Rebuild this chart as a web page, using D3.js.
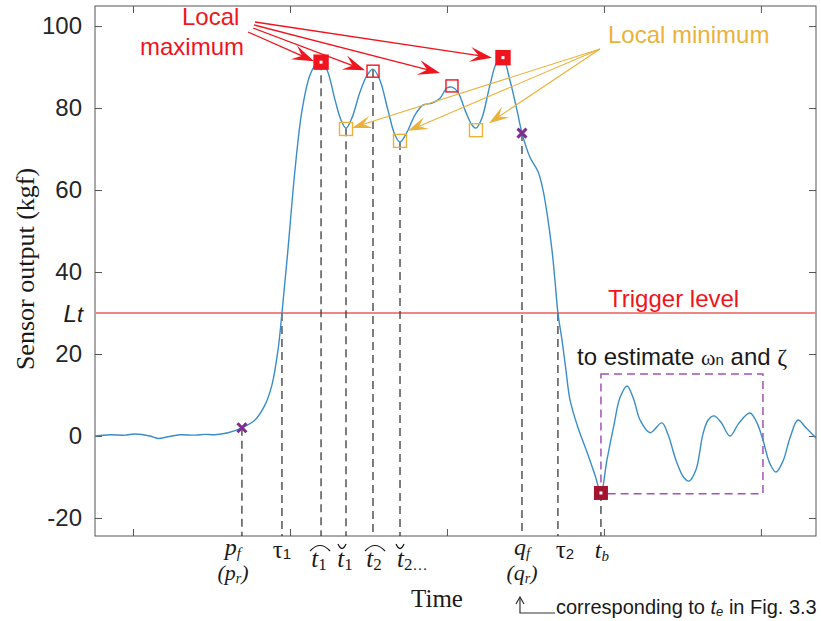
<!DOCTYPE html>
<html lang="en">
<head>
<meta charset="UTF-8">
<title>Sensor output</title>
<script src="https://cdn.jsdelivr.net/npm/d3@7"></script>
<style>
  body { margin: 0; background: #fff; }
  svg { display: block; font-family: "Liberation Sans", Arial, sans-serif; }
  .tick text { font-size: 24px; fill: #262626; }
  .tick line { stroke: #555; }
</style>
</head>
<body>
<div id="chart"></div>
<script>
// sensor trace (time in ms, force in kgf)
var timeMs = [75.8, 85.3, 94.9, 101.3, 110.8, 115.9, 122.3, 129.9, 139.5, 145.9, 152.2, 160.5,
  169.4, 177.7, 184.1, 188.5, 192.4, 194.9, 198.7, 203.2, 207.7, 212.7, 216.6, 219.8,
  223.6, 228.7, 232.5, 235.7, 239.5, 244.6, 249.1, 252.9, 257.3, 262.4, 266.9, 270.1,
  274.5, 279.6, 284.7, 290.5, 295.6, 300.0, 303.2, 307.0, 311.5, 315.9, 318.5, 322.3,
  327.4, 331.9, 335.7, 340.1, 344.6, 347.8, 352.9, 358.0, 361.2, 363.7, 366.9, 368.8,
  370.7, 373.3, 375.8, 378.4, 383.5, 389.2, 394.3, 398.1, 401.9, 406.4, 410.2, 414.7,
  419.1, 423.0, 429.4, 436.9, 440.8, 445.9, 451.0, 454.2, 458.6, 463.1, 466.4, 470.1,
  474.5, 480.3, 486.1, 493.0, 497.5, 501.3, 505.8, 509.6, 514.1, 518.5, 523.6, 528.7, 535.1];
var force = [0.0, 0.3, 0.2, 0.5, 0.0, -0.6, -0.2, 0.3, 0.2, 0.4, 0.3, 0.8,
  2.0, 3.9, 7.6, 12.4, 21.0, 30.0, 45.4, 64.9, 79.5, 88.0, 90.7, 91.2,
  89.3, 82.0, 77.1, 75.1, 77.6, 83.9, 88.0, 89.5, 86.8, 79.5, 73.4, 71.7,
  74.1, 78.3, 80.7, 81.2, 82.4, 84.9, 85.1, 83.9, 79.5, 75.9, 75.1, 77.6,
  85.6, 91.2, 92.0, 86.8, 79.5, 73.9, 68.0, 64.5, 60.0, 54.5, 45.4, 38.0,
  30.0, 23.4, 16.1, 8.8, 2.0, -3.9, -9.5, -13.9, -5.9, 2.7, 9.3, 12.2,
  8.8, 3.9, 0.8, 3.2, 0.4, -5.9, -10.2, -11.0, -8.3, 0.5, 3.9, 4.9,
  3.4, 0.0, 3.2, 5.6, 3.2, -1.0, -6.8, -8.8, -6.1, -0.5, 3.9, 2.0, -0.5];

// pf, tau1, t^1, tv1, t^2, tv2, qf, tau2, tb
var eventTimes = [169.4, 194.9, 219.8, 235.7, 252.9, 270.1, 347.8, 370.7, 398.1];
var eventValues = [2.0, 30.0, 91.2, 75.1, 89.5, 71.7, 73.9, 30.0, -13.9];

var maxTimes = [219.8, 252.9, 303.2, 335.7];
var maxValues = [91.2, 89.0, 85.4, 92.3];
var maxFilled = [true, false, false, true];
var minTimes = [235.7, 270.1, 318.5];
var minValues = [74.9, 72.0, 74.6];
var crossTimes = [169.4, 347.8];
var crossValues = [2.0, 73.9];
var bottomTime = 398.1, bottomValue = -13.9;
var boxTimes = [398.1, 501.3];
var boxValues = [-14.1, 15.1];
var triggerLevel = 30;

var xTicks = [100, 200, 300, 400, 500];
var yTicks = [-20, 0, 20, 40, 60, 80, 100];

(function () {
    var width = 821, height = 621;
    var left = 95, right = 816, top = 6, bottom = 536;
    var serif = '"Liberation Serif", "Times New Roman", serif';
    var sans = '"Liberation Sans", Arial, sans-serif';
    var red = "#f0141e", yellow = "#ebb23a";

    var svg = d3.select("#chart").append("svg")
        .attr("width", width).attr("height", height);

    var x = d3.scaleLinear().domain([75.8, 535.1]).range([left, right]);
    var y = d3.scaleLinear().domain([-24.4, 104.9]).range([bottom, top]);

    // axes, MATLAB style ticks pointing in
    svg.append("g").attr("transform", "translate(0," + bottom + ")")
        .call(d3.axisBottom(x).tickValues(xTicks).tickSizeInner(-7).tickSizeOuter(0).tickFormat(""));
    svg.append("g").attr("transform", "translate(0," + top + ")")
        .call(d3.axisTop(x).tickValues(xTicks).tickSizeInner(-7).tickSizeOuter(0).tickFormat(""));
    svg.append("g").attr("transform", "translate(" + left + ",0)")
        .call(d3.axisLeft(y).tickValues(yTicks).tickSizeInner(-7).tickSizeOuter(0).tickPadding(13)
            .tickFormat(function (d) { return String(d); }));
    svg.append("g").attr("transform", "translate(" + right + ",0)")
        .call(d3.axisRight(y).tickValues(yTicks).tickSizeInner(-7).tickSizeOuter(0).tickFormat(""));
    svg.selectAll(".domain").remove();
    svg.append("rect").attr("x", left).attr("y", top)
        .attr("width", right - left).attr("height", bottom - top)
        .attr("fill", "none").attr("stroke", "#555");

    // trigger level
    svg.append("line").attr("x1", left).attr("x2", right)
        .attr("y1", y(triggerLevel)).attr("y2", y(triggerLevel))
        .attr("stroke", "#ef8585").attr("stroke-width", 2);

    // dashed drop lines
    svg.selectAll(".drop").data(eventTimes).enter().append("line")
        .attr("x1", function (d) { return x(d); })
        .attr("x2", function (d) { return x(d); })
        .attr("y1", function (d, i) { return y(eventValues[i]); })
        .attr("y2", bottom)
        .attr("stroke", "#3a3a3a").attr("stroke-width", 1.3)
        .attr("stroke-dasharray", "8,5");

    // box of the free oscillation
    svg.append("rect")
        .attr("x", x(boxTimes[0])).attr("y", y(boxValues[1]))
        .attr("width", x(boxTimes[1]) - x(boxTimes[0]))
        .attr("height", y(boxValues[0]) - y(boxValues[1]))
        .attr("fill", "none").attr("stroke", "#a552b5")
        .attr("stroke-width", 1.5).attr("stroke-dasharray", "8,5");

    var line = d3.line()
        .x(function (i) { return x(timeMs[i]); })
        .y(function (i) { return y(force[i]); })
        .curve(d3.curveCatmullRom.alpha(0.5));
    svg.append("path").datum(d3.range(timeMs.length))
        .attr("d", line).attr("fill", "none")
        .attr("stroke", "#3a8dc8").attr("stroke-width", 1.4);

    // markers
    svg.selectAll(".maxsq").data(maxTimes).enter().append("rect")
        .attr("x", function (d, i) { return x(d) - (maxFilled[i] ? 7 : 6); })
        .attr("y", function (d, i) { return y(maxValues[i]) - (maxFilled[i] ? 7 : 6); })
        .attr("width", function (d, i) { return maxFilled[i] ? 14 : 12; })
        .attr("height", function (d, i) { return maxFilled[i] ? 14 : 12; })
        .attr("fill", function (d, i) { return maxFilled[i] ? red : "none"; })
        .attr("stroke", red).attr("stroke-width", 1.4);
    svg.selectAll(".maxdot").data(maxTimes.filter(function (d, i) { return maxFilled[i]; }))
        .enter().append("rect")
        .attr("x", function (d) { return x(d) - 1.5; })
        .attr("y", function (d) { return y(maxValues[maxTimes.indexOf(d)]) - 1.5; })
        .attr("width", 3).attr("height", 3).attr("fill", "#fff");

    svg.selectAll(".minsq").data(minTimes).enter().append("rect")
        .attr("x", function (d) { return x(d) - 6.5; })
        .attr("y", function (d, i) { return y(minValues[i]) - 6.5; })
        .attr("width", 13).attr("height", 13)
        .attr("fill", "none").attr("stroke", yellow).attr("stroke-width", 1.4);

    svg.selectAll(".cross").data(crossTimes).enter().append("path")
        .attr("transform", function (d, i) { return "translate(" + x(d) + "," + y(crossValues[i]) + ")"; })
        .attr("d", "M-4.5,-4.5L4.5,4.5M-4.5,4.5L4.5,-4.5")
        .attr("stroke", "#7e2f8e").attr("stroke-width", 3);

    svg.append("rect")
        .attr("x", x(bottomTime) - 7).attr("y", y(bottomValue) - 7)
        .attr("width", 14).attr("height", 14).attr("fill", "#a2142f");
    svg.append("rect")
        .attr("x", x(bottomTime) - 1.5).attr("y", y(bottomValue) - 1.5)
        .attr("width", 3).attr("height", 3).attr("fill", "#fff");

    // annotation arrows
    var arrow = function (x0, y0, x1, y1, color, len, half, w) {
        var ang = Math.atan2(y1 - y0, x1 - x0);
        svg.append("line").attr("x1", x0).attr("y1", y0)
            .attr("x2", x1 - Math.cos(ang) * len * 0.6)
            .attr("y2", y1 - Math.sin(ang) * len * 0.6)
            .attr("stroke", color).attr("stroke-width", w);
        svg.append("path")
            .attr("d", "M0,0L" + (-len) + "," + (-half) + "L" + (-len * 0.6) + ",0L" + (-len) + "," + half + "Z")
            .attr("transform", "translate(" + x1 + "," + y1 + ") rotate(" + (ang * 180 / Math.PI) + ")")
            .attr("fill", color);
    };
    var maxFrom = [[248, 32], [253, 28], [254, 25], [255, 22]];
    var maxTip = [[-7, -1], [-8, -1], [-12, -13], [-11, 0]];
    maxTimes.forEach(function (d, i) {
        arrow(maxFrom[i][0], maxFrom[i][1], x(d) + maxTip[i][0], y(maxValues[i]) + maxTip[i][1], red, 22, 7.5, 1.3);
    });
    var minTip = [[6, -1], [8, -10], [13, -7]];
    minTimes.forEach(function (d, i) {
        arrow(600, 49, x(d) + minTip[i][0], y(minValues[i]) + minTip[i][1], yellow, 20, 6.5, 1.1);
    });

    // text helper with tspans for sub/superscripts
    var rich = function (px, py, parts, anchor, family) {
        var t = svg.append("text").attr("x", px).attr("y", py)
            .attr("text-anchor", anchor || "start")
            .attr("font-family", family || serif).attr("fill", "#1a1a1a");
        var shift = 0;
        parts.forEach(function (p) {
            var ts = t.append("tspan").text(p[0]).attr("font-size", p[1]);
            if (p[2]) ts.attr("font-style", "italic");
            var s = p[3] || 0;
            if (s - shift) ts.attr("dy", s - shift);
            shift = s;
            if (p[4]) ts.attr("font-family", p[4]);
        });
        return t;
    };

    svg.append("text").attr("x", 182).attr("y", 25).attr("fill", red)
        .attr("font-size", 24).text("Local");
    svg.append("text").attr("x", 140).attr("y", 55).attr("fill", red)
        .attr("font-size", 24).text("maximum");
    svg.append("text").attr("x", 608).attr("y", 43).attr("fill", yellow)
        .attr("font-size", 24).text("Local minimum");
    svg.append("text").attr("x", 608).attr("y", 307).attr("fill", red)
        .attr("font-size", 24).text("Trigger level");

    rich(83, y(triggerLevel) + 9, [["L", 24, true], ["t", 22, true]], "end", sans);
    rich(577, 365, [["to estimate ", 24, false], ["ω", 22, false, 0, serif], ["n", 15, false, 0],
        [" and ", 24, false], ["ζ", 24, false, 0, serif]], "start", sans);

    // event labels under the axis
    var ex = eventTimes.map(function (d) { return x(d); });
    rich(ex[0] - 9, 555, [["p", 24, true], ["f", 15, true, 3]], "middle");
    rich(ex[0] - 9, 580, [["(", 22, true], ["p", 22, true], ["r", 14, true, 3], [")", 22, true, 0]], "middle");
    rich(ex[1], 558, [["τ", 25], ["1", 15, false, 1, sans]], "middle");
    var hat = function (cx) {
        svg.append("path").attr("d", "M" + (cx - 10) + ",551Q" + cx + ",540 " + (cx + 10) + ",551")
            .attr("fill", "none").attr("stroke", "#1a1a1a").attr("stroke-width", 1.2);
    };
    var breve = function (cx) {
        svg.append("path").attr("d", "M" + (cx - 4) + ",544Q" + cx + ",553 " + (cx + 4) + ",544")
            .attr("fill", "none").attr("stroke", "#1a1a1a").attr("stroke-width", 1.3);
    };
    rich(ex[2] - 2, 567, [["t", 25, true], ["1", 17, false, 3]], "middle");
    hat(ex[2] - 1);
    rich(ex[3] - 1, 567, [["t", 25, true], ["1", 17, false, 3]], "middle");
    breve(ex[3] - 4);
    rich(ex[4] + 1, 567, [["t", 25, true], ["2", 17, false, 3]], "middle");
    hat(ex[4] + 2);
    rich(ex[5] - 3, 567, [["t", 25, true], ["2", 17, false, 3], ["…", 15, false, 3]], "start");
    breve(ex[5]);
    rich(ex[6], 555, [["q", 24, true], ["f", 15, true, 3]], "middle");
    rich(ex[6], 580, [["(", 22, true], ["q", 22, true], ["r", 14, true, 3], [")", 22, true, 0]], "middle");
    rich(ex[7] + 7, 558, [["τ", 25], ["2", 15, false, 1, sans]], "middle");
    rich(ex[8] + 1, 558, [["t", 24, true], ["b", 15, true, 3]], "middle");

    // pointer from (qr) to the note
    svg.append("path").attr("d", "M" + (ex[6] - 2) + ",598V613H555")
        .attr("fill", "none").attr("stroke", "#333").attr("stroke-width", 1.2);
    svg.append("path").attr("d", "M" + (ex[6] - 6) + ",604L" + (ex[6] - 2) + ",597L" + (ex[6] + 2) + ",604")
        .attr("fill", "none").attr("stroke", "#333").attr("stroke-width", 1.2);
    rich(556, 614, [["corresponding to ", 20], ["t", 20, true], ["e", 13, true, 2], [" in Fig. 3.3", 20, false, 0]], "start", sans);

    svg.append("text").attr("x", 437).attr("y", 607).attr("text-anchor", "middle")
        .attr("font-family", serif).attr("font-size", 25).attr("fill", "#1a1a1a").text("Time");
    svg.append("text").attr("transform", "translate(34,269) rotate(-90)")
        .attr("text-anchor", "middle").attr("font-family", serif)
        .attr("font-size", 26).attr("fill", "#1a1a1a").text("Sensor output (kgf)");
})();
</script>
</body>
</html>
